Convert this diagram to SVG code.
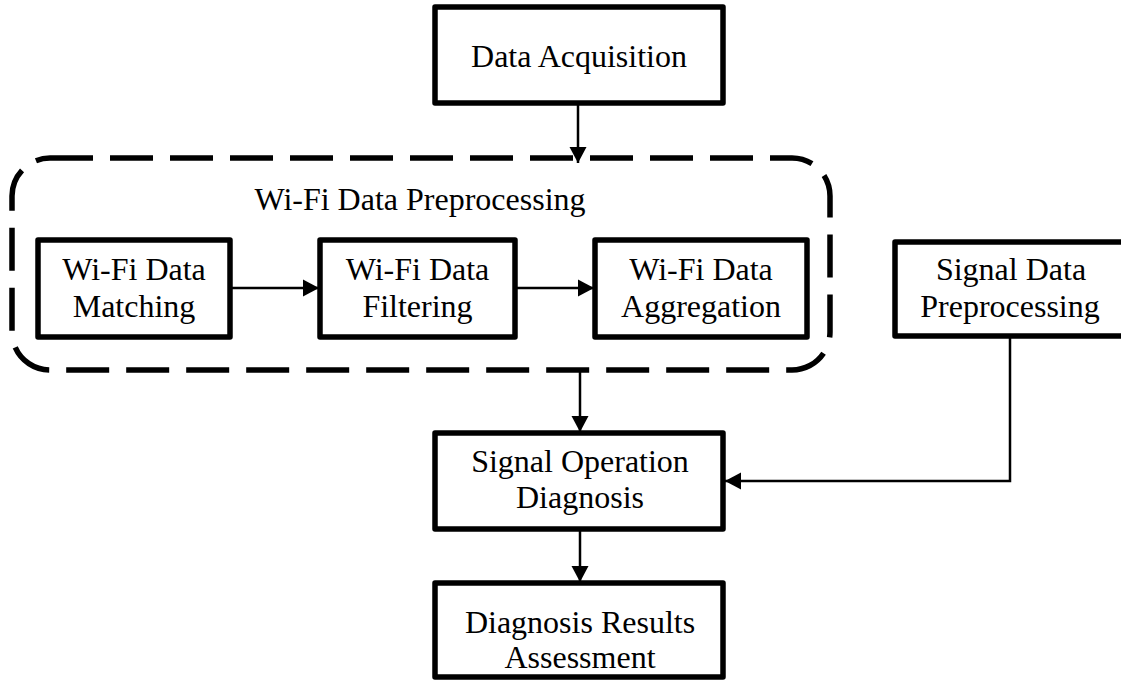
<svg xmlns="http://www.w3.org/2000/svg" width="1121" height="681" viewBox="0 0 1121 681">
<defs>
<style>
.box{fill:#fff;stroke:#000;stroke-width:5.5;stroke-linejoin:round}
.t{font-family:"Liberation Serif","Times New Roman",serif;font-size:32px;fill:#000;text-anchor:middle}
.c{fill:none;stroke:#000;stroke-width:2.5}
.dash{fill:none;stroke:#000;stroke-width:5.5;stroke-dasharray:43 17}
</style>
<marker id="ah" markerUnits="userSpaceOnUse" markerWidth="18" markerHeight="18" viewBox="0 0 18 18" refX="16" refY="9" orient="auto">
<path d="M0,0.5 L16,9 L0,17.5 Z" fill="#000"/>
</marker>
</defs>
<rect width="1121" height="681" fill="#fff"/>
<g id="group-wifi">
<rect class="dash" x="12" y="158" width="818" height="212" rx="38" ry="38"/>
<text class="t" x="420" y="210">Wi-Fi Data Preprocessing</text>
</g>
<g id="connectors">
<line class="c" x1="578" y1="105" x2="578" y2="163" marker-end="url(#ah)"/>
<line class="c" x1="232" y1="288" x2="319" y2="288" marker-end="url(#ah)"/>
<line class="c" x1="517" y1="288" x2="594" y2="288" marker-end="url(#ah)"/>
<line class="c" x1="580" y1="370" x2="580" y2="432" marker-end="url(#ah)"/>
<line class="c" x1="580" y1="531" x2="580" y2="582" marker-end="url(#ah)"/>
<path class="c" d="M1010,338 V481 H725" marker-end="url(#ah)"/>
</g>
<g id="node-acq">
<rect class="box" x="435" y="7" width="288" height="96"/>
<text class="t" x="579" y="67">Data Acquisition</text>
</g>
<g id="node-match">
<rect class="box" x="38" y="240" width="192" height="97"/>
<text class="t" x="134" y="280">Wi-Fi Data</text>
<text class="t" x="134" y="317">Matching</text>
</g>
<g id="node-filter">
<rect class="box" x="320" y="240" width="195" height="97"/>
<text class="t" x="417.5" y="280">Wi-Fi Data</text>
<text class="t" x="417.5" y="317">Filtering</text>
</g>
<g id="node-agg">
<rect class="box" x="595" y="240" width="212" height="97"/>
<text class="t" x="701" y="280">Wi-Fi Data</text>
<text class="t" x="701" y="317">Aggregation</text>
</g>
<g id="node-sigpre">
<rect class="box" x="895" y="242" width="232" height="94"/>
<text class="t" x="1011" y="280">Signal Data</text>
<text class="t" x="1010" y="317">Preprocessing</text>
</g>
<g id="node-sigop">
<rect class="box" x="435" y="433" width="288" height="96"/>
<text class="t" x="580" y="472">Signal Operation</text>
<text class="t" x="580" y="508">Diagnosis</text>
</g>
<g id="node-result">
<rect class="box" x="435" y="583" width="288" height="94"/>
<text class="t" x="580" y="633">Diagnosis Results</text>
<text class="t" x="580" y="668">Assessment</text>
</g>
</svg>
